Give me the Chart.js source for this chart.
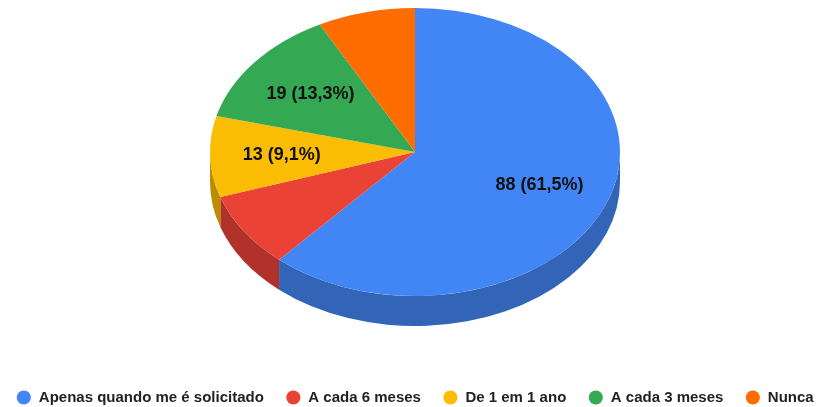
<!DOCTYPE html>
<html>
<head>
<meta charset="utf-8">
<script src="https://cdn.jsdelivr.net/npm/chart.js@4/dist/chart.umd.min.js"></script>
<style>
  html, body { margin: 0; padding: 0; background: #fff; overflow: hidden; }
  #wrap { position: absolute; left: -10px; top: 0; }
</style>
</head>
<body>
<div id="wrap"><canvas id="freqChart" width="850" height="415"></canvas></div>
<script>
const categories = ['Apenas quando me é solicitado', 'A cada 6 meses', 'De 1 em 1 ano', 'A cada 3 meses', 'Nunca'];
const counts = [88, 12, 13, 19, 11];
const topColors = ['#4285F4', '#EA4335', '#FBBC04', '#34A853', '#FF6D01'];
const sideColors = ['#3264B7', '#B0322A', '#BC8D03', '#277E3E', '#BF5201'];

const FONT = 'Arial, "Liberation Sans", sans-serif';

// squashes the flat pie into an ellipse and gives it a wall underneath
const tiltPlugin = {
    id: 'tilt3d',
    beforeDatasetsDraw(chart, args, opts) {
        const arcs = chart.getDatasetMeta(0).data;
        const ctx = chart.ctx;
        const { x, y, outerRadius: r } = arcs[0];
        const cx = x;
        const cy = y - r + opts.ry;

        // only the front half of the wall is visible (canvas angles 0..PI)
        arcs.forEach((arc, i) => {
            const s = Math.max(arc.startAngle, 0);
            const e = Math.min(arc.endAngle, Math.PI);
            if (e <= s) return;
            ctx.beginPath();
            ctx.ellipse(cx, cy, opts.rx, opts.ry, 0, s, e);
            ctx.ellipse(cx, cy + opts.depth, opts.rx, opts.ry, 0, e, s, true);
            ctx.closePath();
            ctx.fillStyle = sideColors[i];
            ctx.fill();
        });

        ctx.save();
        ctx.translate(cx, cy);
        ctx.scale(opts.rx / r, opts.ry / r);
        ctx.translate(-x, -y);
    },
    afterDatasetsDraw(chart, args, opts) {
        const ctx = chart.ctx;
        ctx.restore();

        const arcs = chart.getDatasetMeta(0).data;
        const { x, y, outerRadius: r } = arcs[0];
        const cy = y - r + opts.ry;
        const total = counts.reduce((a, b) => a + b, 0);

        ctx.save();
        ctx.font = 'bold 18px ' + FONT;
        ctx.fillStyle = '#111';
        ctx.textAlign = 'center';
        ctx.textBaseline = 'middle';
        arcs.forEach((arc, i) => {
            const share = counts[i] / total;
            if (share < opts.minShare) return;
            const mid = (arc.startAngle + arc.endAngle) / 2;
            const px = x + Math.cos(mid) * opts.rx * opts.labelPos;
            const py = cy + Math.sin(mid) * opts.ry * opts.labelPos;
            const pct = (share * 100).toFixed(1).replace('.', ',');
            ctx.fillText(counts[i] + ' (' + pct + '%)', px, py);
        });
        ctx.restore();
    }
};

new Chart(document.getElementById('freqChart'), {
    type: 'pie',
    data: {
        labels: categories,
        datasets: [{
            data: counts,
            backgroundColor: topColors,
            borderWidth: 0,
            clip: false
        }]
    },
    options: {
        responsive: false,
        animation: false,
        layout: { padding: { top: 8 } },
        plugins: {
            tooltip: { enabled: false },
            legend: {
                position: 'bottom',
                labels: {
                    usePointStyle: true,
                    pointStyle: 'circle',
                    boxWidth: 15,
                    boxHeight: 10,
                    padding: 22,
                    color: '#222',
                    font: { family: FONT, size: 15, weight: 'bold' }
                }
            },
            tilt3d: { rx: 205, ry: 144, depth: 30, labelPos: 0.65, minShare: 0.09 }
        }
    },
    plugins: [tiltPlugin]
});
</script>
</body>
</html>
